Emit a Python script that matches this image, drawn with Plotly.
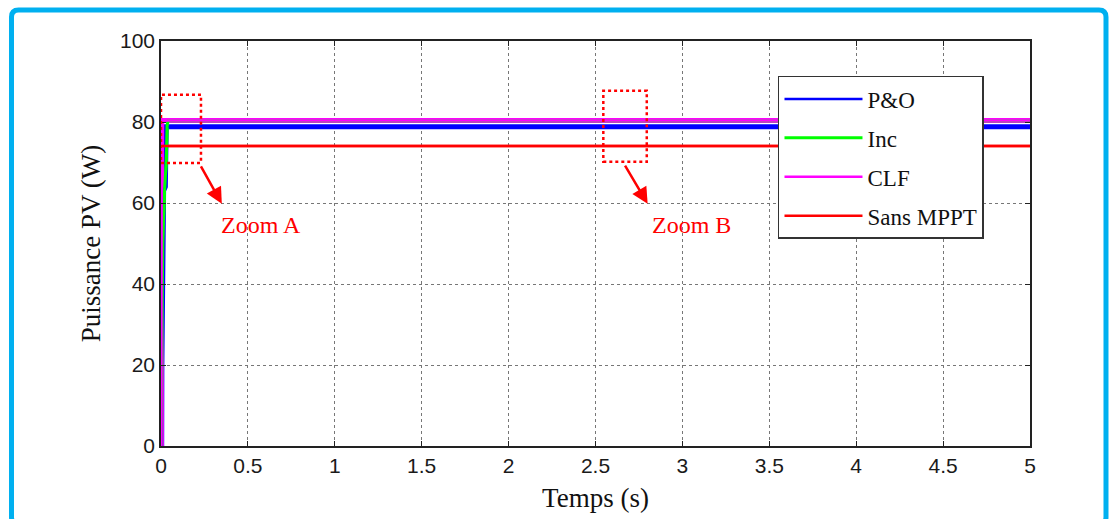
import plotly.graph_objects as go

# ---- data ----
t_po = [0, 0.004, 0.005, 0.006, 0.008, 0.015, 0.025, 0.03, 5]
p_po = [0, 0, 20, 26, 45, 63, 64, 78.8, 78.8]
t_inc = [0, 0.01, 0.02, 0.03, 0.035, 0.04, 5]
p_inc = [0, 50, 63, 70, 79, 80.3, 80.3]
t_clf = [0, 0.002, 0.004, 5]
p_clf = [0, 0, 80.4, 80.4]
t_sans = [0, 5]
p_sans = [74.1, 74.1]

series_names = ["P&O", "Inc", "CLF", "Sans MPPT"]
series_colors = ["#0000FF", "#00FF00", "#FF00FF", "#FF0000"]
x_ticks = [0, 0.5, 1, 1.5, 2, 2.5, 3, 3.5, 4, 4.5, 5]
x_tick_labels = ["0", "0.5", "1", "1.5", "2", "2.5", "3", "3.5", "4", "4.5", "5"]
y_ticks = [0, 20, 40, 60, 80, 100]

zoom_a = dict(x0=0.0, x1=0.23, y0=69.9, y1=86.7)
zoom_b = dict(x0=2.545, x1=2.795, y0=70.2, y1=87.7)

SERIF = "Liberation Serif, Times New Roman, serif"
SANS = "Liberation Sans, Arial, sans-serif"

series = [(t_po, p_po), (t_inc, p_inc), (t_clf, p_clf), (t_sans, p_sans)]
band_widths = [5, 3, 5, 2.5]

fig = go.Figure()
# thick oscillation bands (not in legend)
for (tx, py), c, w in zip(series, series_colors, band_widths):
    fig.add_trace(go.Scatter(x=tx, y=py, mode="lines", showlegend=False,
                             hoverinfo="skip", line=dict(color=c, width=w)))
# legend entries with thin line samples
for i, ((tx, py), c, n) in enumerate(zip(series, series_colors, series_names)):
    fig.add_trace(go.Scatter(x=tx, y=py, mode="lines", name=n,
                             line=dict(color=c, width=2.5 if i != 1 else 3),
                             legendgroup=f"g{i}"))

axis_common = dict(
    showline=True, linecolor="#222", linewidth=1.5, mirror="ticks",
    ticks="inside", ticklen=5, tickcolor="#222",
    showgrid=True, gridcolor="#777", griddash="dot", gridwidth=1,
    zeroline=False,
    tickfont=dict(family=SANS, size=21, color="#1a1a1a"),
)

fig.update_layout(
    width=1110, height=519,
    margin=dict(l=161, r=80, t=41, b=73),
    paper_bgcolor="white", plot_bgcolor="white",
    xaxis=dict(range=[0, 5], tickvals=x_ticks, ticktext=x_tick_labels,
               title=dict(text="Temps (s)", font=dict(family=SERIF, size=27, color="#111"), standoff=12),
               **axis_common),
    yaxis=dict(range=[0, 100], tickvals=y_ticks,
               title=dict(text="Puissance PV (W)", font=dict(family=SERIF, size=27, color="#111"), standoff=12),
               **axis_common),
    legend=dict(x=0.71, y=0.9136, xanchor="left", yanchor="top",
                bgcolor="white", bordercolor="#333", borderwidth=1.5,
                font=dict(family=SERIF, size=23, color="#111"),
                itemwidth=78, tracegroupgap=6),
    showlegend=True,
)

# zoom rectangles
for z in (zoom_a, zoom_b):
    fig.add_shape(type="rect", xref="x", yref="y", **z,
                  line=dict(color="#FF0000", width=2.5, dash="dot"))

# arrows and labels
fig.add_annotation(x=0.35, y=59.8, ax=0.225, ay=69.4, xref="x", yref="y",
                   axref="x", ayref="y", showarrow=True, arrowhead=2,
                   arrowsize=1.3, arrowwidth=2.5, arrowcolor="#FF0000", text="")
fig.add_annotation(x=2.8, y=59.8, ax=2.665, ay=69.6, xref="x", yref="y",
                   axref="x", ayref="y", showarrow=True, arrowhead=2,
                   arrowsize=1.3, arrowwidth=2.5, arrowcolor="#FF0000", text="")
fig.add_annotation(x=0.575, y=54.6, xref="x", yref="y", text="Zoom A", showarrow=False,
                   font=dict(family=SERIF, size=24, color="#FF0000"))
fig.add_annotation(x=3.055, y=54.6, xref="x", yref="y", text="Zoom B", showarrow=False,
                   font=dict(family=SERIF, size=24, color="#FF0000"))

# rounded cyan frame (bottom edge falls just outside the picture)
L, R, T, B = -0.17204, 1.08745, 1.07654, -0.1926
rx, ry = 7 / 869, 7 / 405
path = (f"M{L+rx},{T} L{R-rx},{T} Q{R},{T} {R},{T-ry} L{R},{B+ry} Q{R},{B} {R-rx},{B} "
        f"L{L+rx},{B} Q{L},{B} {L},{B+ry} L{L},{T-ry} Q{L},{T} {L+rx},{T} Z")
fig.add_shape(type="path", xref="paper", yref="paper", path=path,
              line=dict(color="#00B0F0", width=5), layer="above")

fig.write_html("out.html", config={"displayModeBar": False},
               post_script="document.body.style.margin='0';document.body.style.padding='0';document.body.style.overflow='hidden';")
